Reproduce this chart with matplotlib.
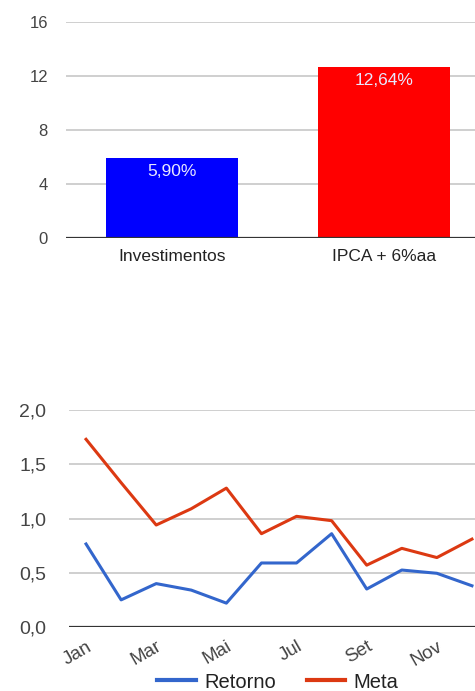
import matplotlib
matplotlib.use("Agg")
import matplotlib.pyplot as plt
from matplotlib.lines import Line2D

plt.rcParams['font.family'] = ['Liberation Sans', 'DejaVu Sans']

# top chart data
bar_names = ["Investimentos", "IPCA + 6%aa"]
bar_values = [5.90, 12.64]
bar_colors = ["#0000ff", "#ff0000"]

# bottom chart data
months = ["Jan", "Fev", "Mar", "Abr", "Mai", "Jun", "Jul", "Ago", "Set", "Out", "Nov", "Dez"]
retorno = [0.765, 0.25, 0.40, 0.34, 0.22, 0.59, 0.59, 0.86, 0.35, 0.525, 0.495, 0.38]
meta = [1.73, 1.33, 0.94, 1.09, 1.28, 0.86, 1.02, 0.98, 0.57, 0.725, 0.64, 0.81]

fig = plt.figure(figsize=(4.75, 6.91), dpi=100)
fig.patch.set_facecolor("white")


def style_axes(ax):
    for s in ax.spines.values():
        s.set_visible(False)
    ax.tick_params(length=0)
    ax.grid(axis="y", color="#cccccc", linewidth=1.3)
    ax.set_axisbelow(True)


# --- bar chart ---
ax1 = fig.add_axes([66 / 475, 1 - 238 / 691, (490 - 66) / 475, 216 / 691])
style_axes(ax1)
x = range(len(bar_names))
ax1.bar(x, bar_values, width=0.62, color=bar_colors, zorder=2)
ax1.set_xlim(-0.5, 1.5)
ax1.set_ylim(0, 16)
ax1.set_yticks([0, 4, 8, 12, 16])
ax1.set_xticks(list(x))
ax1.set_xticklabels(bar_names, fontsize=12.5, color="#222222")
ax1.tick_params(axis="y", labelsize=12, labelcolor="#444444", pad=13)
ax1.tick_params(axis="x", pad=8)
ax1.axhline(0, color="#333333", linewidth=1.6, zorder=3)
for i, v in enumerate(bar_values):
    ax1.text(i, v - 0.45, f"{v:.2f}%".replace(".", ","), ha="center", va="top",
             fontsize=12.5, color="#e8e8ff", zorder=4)

# --- line chart ---
ax2 = fig.add_axes([68.5 / 475, 1 - 627 / 691, (489.5 - 68.5) / 475, 217 / 691])
style_axes(ax2)
xs = range(len(months))
ax2.plot(xs, retorno, color="#3366cc", linewidth=2.2, zorder=3)
ax2.plot(xs, meta, color="#dc3912", linewidth=2.2, zorder=3)
ax2.set_xlim(-0.5, len(months) - 0.5)
ax2.set_ylim(0, 2.0)
ax2.set_yticks([0, 0.5, 1.0, 1.5, 2.0])
ax2.set_yticklabels([f"{v:.1f}".replace(".", ",") for v in [0, 0.5, 1.0, 1.5, 2.0]])
ax2.tick_params(axis="y", labelsize=14, labelcolor="#444444", pad=16)
ax2.set_xticks(list(xs)[::2])
ax2.set_xticklabels(months[::2], rotation=30, ha="right", rotation_mode="anchor",
                    fontsize=13.5, color="#444444")
ax2.tick_params(axis="x", pad=8)
ax2.axhline(0, color="#333333", linewidth=1.6, zorder=4)

handles = [Line2D([], [], color="#3366cc", linewidth=3),
           Line2D([], [], color="#dc3912", linewidth=3)]
fig.legend(handles, ["Retorno", "Meta"], loc="center", bbox_to_anchor=(278 / 475, 1 - 682 / 691),
           ncol=2, frameon=False, fontsize=14.5, handlelength=1.9, columnspacing=1.5,
           handletextpad=0.45, labelcolor="#222222")

fig.savefig("out.png", dpi=100, facecolor="white")
